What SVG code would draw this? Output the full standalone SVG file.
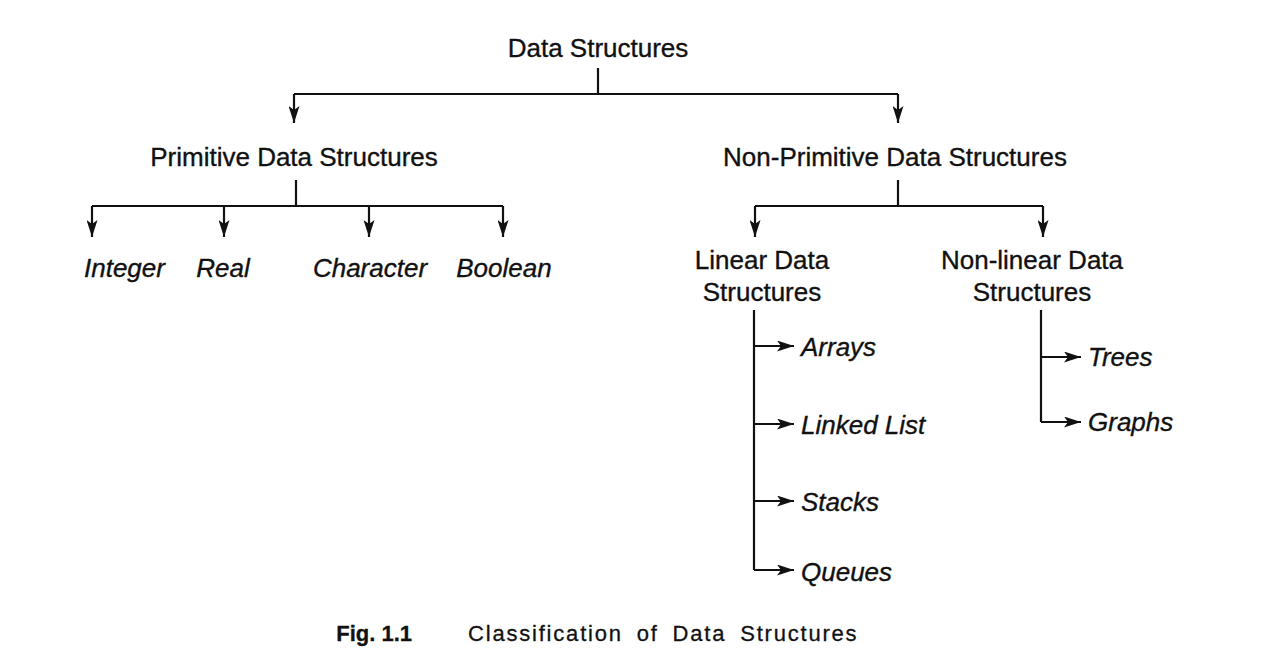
<svg xmlns="http://www.w3.org/2000/svg" width="1271" height="667" viewBox="0 0 1271 667">
<style>
.t{font-family:"Liberation Sans",Arial,sans-serif;font-size:26px;fill:#111;stroke:#111;stroke-width:0.35;}
.i{font-style:italic;}
.c{text-anchor:middle;}
.ln{stroke:#111;stroke-width:2.2;fill:none;}
.cap{font-family:"Liberation Sans",Arial,sans-serif;font-size:22px;fill:#111;stroke:#111;stroke-width:0.3;}
</style>
<defs>
<marker id="ah" viewBox="0 0 17 11" refX="17" refY="5.5" markerWidth="17" markerHeight="11" markerUnits="userSpaceOnUse" orient="auto">
<path d="M0,0 L17,5.5 L0,11 L4,5.5 Z" fill="#111"/>
</marker>
</defs>
<rect width="1271" height="667" fill="#fff"/>
<g id="connectors">
<path class="ln" d="M598,68 V94"/>
<path class="ln" d="M294,94 H898"/>
<path class="ln" d="M294,94 V123" marker-end="url(#ah)"/>
<path class="ln" d="M898,94 V123" marker-end="url(#ah)"/>
<path class="ln" d="M296,180 V206"/>
<path class="ln" d="M92,206 H503"/>
<path class="ln" d="M92,206 V237" marker-end="url(#ah)"/>
<path class="ln" d="M224,206 V237" marker-end="url(#ah)"/>
<path class="ln" d="M369,206 V237" marker-end="url(#ah)"/>
<path class="ln" d="M503,206 V237" marker-end="url(#ah)"/>
<path class="ln" d="M898,180 V206"/>
<path class="ln" d="M755,206 H1043"/>
<path class="ln" d="M755,206 V237" marker-end="url(#ah)"/>
<path class="ln" d="M1043,206 V237" marker-end="url(#ah)"/>
<path class="ln" d="M754,310 V570"/>
<path class="ln" d="M754,346 H794" marker-end="url(#ah)"/>
<path class="ln" d="M754,424 H794" marker-end="url(#ah)"/>
<path class="ln" d="M754,501 H794" marker-end="url(#ah)"/>
<path class="ln" d="M754,570 H794" marker-end="url(#ah)"/>
<path class="ln" d="M1041,310 V422"/>
<path class="ln" d="M1041,357 H1081" marker-end="url(#ah)"/>
<path class="ln" d="M1041,422 H1081" marker-end="url(#ah)"/>
</g>
<g id="n-root"><text class="t c" x="598" y="57">Data Structures</text></g>
<g id="n-prim"><text class="t c" x="294" y="166">Primitive Data Structures</text></g>
<g id="n-nonprim"><text class="t c" x="895" y="166">Non-Primitive Data Structures</text></g>
<g id="n-integer"><text class="t i" x="84" y="277">Integer</text></g>
<g id="n-real"><text class="t i c" x="223" y="277">Real</text></g>
<g id="n-character"><text class="t i c" x="370" y="277">Character</text></g>
<g id="n-boolean"><text class="t i c" x="504" y="277">Boolean</text></g>
<g id="n-linear"><text class="t c" x="762" y="269">Linear Data</text><text class="t c" x="762" y="301">Structures</text></g>
<g id="n-nonlinear"><text class="t c" x="1032" y="269">Non-linear Data</text><text class="t c" x="1032" y="301">Structures</text></g>
<g id="n-arrays"><text class="t i" x="801" y="356">Arrays</text></g>
<g id="n-linkedlist"><text class="t i" x="801" y="434">Linked List</text></g>
<g id="n-stacks"><text class="t i" x="801" y="511">Stacks</text></g>
<g id="n-queues"><text class="t i" x="801" y="581">Queues</text></g>
<g id="n-trees"><text class="t i" x="1088" y="366">Trees</text></g>
<g id="n-graphs"><text class="t i" x="1088" y="431">Graphs</text></g>
<g id="caption">
<text class="cap" x="412" y="641" font-weight="bold" font-size="21" text-anchor="end">Fig. 1.1</text>
<text class="cap" x="468" y="641" letter-spacing="1.8" word-spacing="6">Classification of Data Structures</text>
</g>
</svg>
